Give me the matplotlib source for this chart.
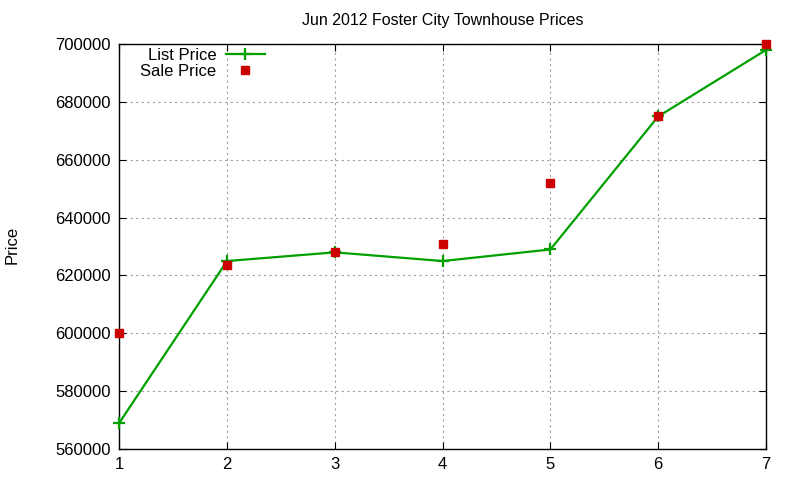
import matplotlib
matplotlib.use("Agg")
import matplotlib.pyplot as plt

plt.rcParams['font.family'] = ['Liberation Sans', 'DejaVu Sans']

weeks = [1, 2, 3, 4, 5, 6, 7]
list_price = [569000, 625000, 628000, 625000, 629000, 675000, 698000]
sale_price = [600000, 623500, 628000, 631000, 652000, 675000, 700000]
yticks = [560000, 580000, 600000, 620000, 640000, 660000, 680000, 700000]

fig = plt.figure(figsize=(8, 4.8), dpi=100)
ax = fig.add_axes([0.149, 0.0646, 0.8085, 0.8434])

ax.plot(weeks, list_price, color="#00a000", lw=1.6, marker="+", ms=8, mew=1.6,
        label="List Price", zorder=3, clip_on=False)
ax.plot(weeks, sale_price, ls="none", color="#cc0000", marker="s", ms=6,
        label="Sale Price", zorder=4, clip_on=False)

ax.set_xlim(1, 7)
ax.set_ylim(560000, 700000)
ax.set_xticks(weeks)
ax.set_yticks(yticks)
ax.tick_params(direction="in", top=True, right=True, labelsize=12, length=5, pad=6)
ax.grid(True, color="#a0a0a0", ls=(0, (2, 3)), lw=0.8)
for s in ax.spines.values():
    s.set_linewidth(1.0)

ax.set_title("Jun 2012 Foster City Townhouse Prices", fontsize=11.5, pad=14)
fig.text(0.006, 0.49, "Price", rotation=90, va="center", ha="left", fontsize=12)

leg = ax.legend(loc="upper left", bbox_to_anchor=(0.017, 1.015), frameon=False,
                markerfirst=False, fontsize=12, handlelength=2.3,
                handletextpad=0.6, labelspacing=0.05, borderaxespad=0.2)
for t in leg.get_texts():
    t.set_ha("right")

fig.savefig("out.png", dpi=100)
